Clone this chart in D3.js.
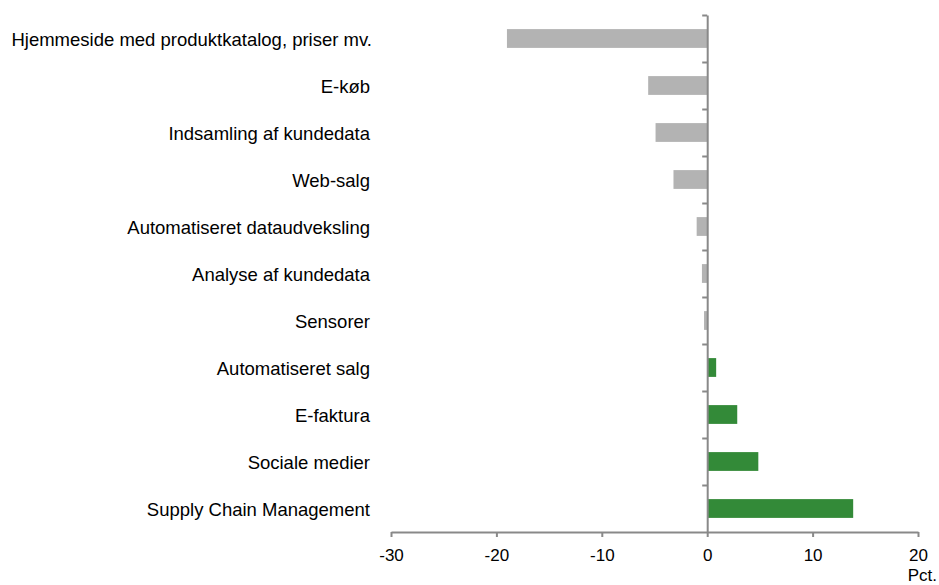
<!DOCTYPE html>
<html lang="da">
<head>
<meta charset="utf-8">
<title>Pct.</title>
<style>
  html, body {margin: 0; padding: 0; background: #fff;}
  svg {display: block; font-family: "Liberation Sans", Arial, sans-serif;}
  .lbl {font-size: 18.5px; fill: #000;}
  .unit {font-size: 17px; fill: #000;}
  .axis text {font-size: 17px; fill: #000; font-family: "Liberation Sans", Arial, sans-serif;}
  .axis path, .axis line {stroke: #898989; stroke-width: 2px;}
</style>
</head>
<body>
<div id="chart"></div>
<script src="https://cdnjs.cloudflare.com/ajax/libs/d3/7.8.5/d3.min.js"></script>
<script>
  var categories = [
    'Hjemmeside med produktkatalog, priser mv.',
    'E-køb',
    'Indsamling af kundedata',
    'Web-salg',
    'Automatiseret dataudveksling',
    'Analyse af kundedata',
    'Sensorer',
    'Automatiseret salg',
    'E-faktura',
    'Sociale medier',
    'Supply Chain Management'
  ];
  var values = [-19.0, -5.6, -4.9, -3.2, -1.0, -0.5, -0.3, 0.85, 2.85, 4.85, 13.85];
  var xTicks = [-30, -20, -10, 0, 10, 20];
  var unitLabel = 'Pct.';

  var W = 939, H = 585;
  var svg = d3.select('#chart').append('svg').attr('width', W).attr('height', H);

  var x = d3.scaleLinear().domain([-30, 20]).range([391, 918]);
  var y = d3.scaleBand().domain(categories).range([15, 532]).paddingInner(0.6).paddingOuter(0.3);
  var yEdge = d3.scaleLinear().domain([0, categories.length]).range([15, 532]);

  // bars
  svg.selectAll('rect.bar')
    .data(values)
    .enter().append('rect')
    .attr('class', 'bar')
    .attr('x', function (d) { return x(Math.min(0, d)); })
    .attr('y', function (d, i) { return y(categories[i]); })
    .attr('width', function (d) { return Math.abs(x(d) - x(0)); })
    .attr('height', y.bandwidth())
    .attr('fill', function (d) { return d < 0 ? '#b3b3b3' : '#338a38'; });

  // category labels, right aligned well left of the zero line
  svg.selectAll('text.lbl')
    .data(categories)
    .enter().append('text')
    .attr('class', 'lbl')
    .attr('x', function (d, i) { return i === 0 ? 372 : 370; })
    .attr('y', function (d) { return y(d) + y.bandwidth() / 2; })
    .attr('dy', '0.4em')
    .attr('text-anchor', 'end')
    .text(function (d) { return d; });

  // vertical axis at zero, ticks between categories
  svg.append('g')
    .attr('class', 'axis')
    .attr('transform', 'translate(' + x(0) + ',0)')
    .call(d3.axisLeft(yEdge).tickValues(d3.range(0, categories.length)).tickFormat('').tickSize(5).tickSizeOuter(0));

  // bottom axis, plain hyphen for negatives
  svg.append('g')
    .attr('class', 'axis')
    .attr('transform', 'translate(0,532)')
    .call(d3.axisBottom(x).tickValues(xTicks).tickFormat(function (d) { return String(d); })
      .tickSize(5).tickSizeOuter(0).tickPadding(12));

  svg.append('text')
    .attr('class', 'unit')
    .attr('x', 937)
    .attr('y', 581)
    .attr('text-anchor', 'end')
    .text(unitLabel);
</script>
</body>
</html>
